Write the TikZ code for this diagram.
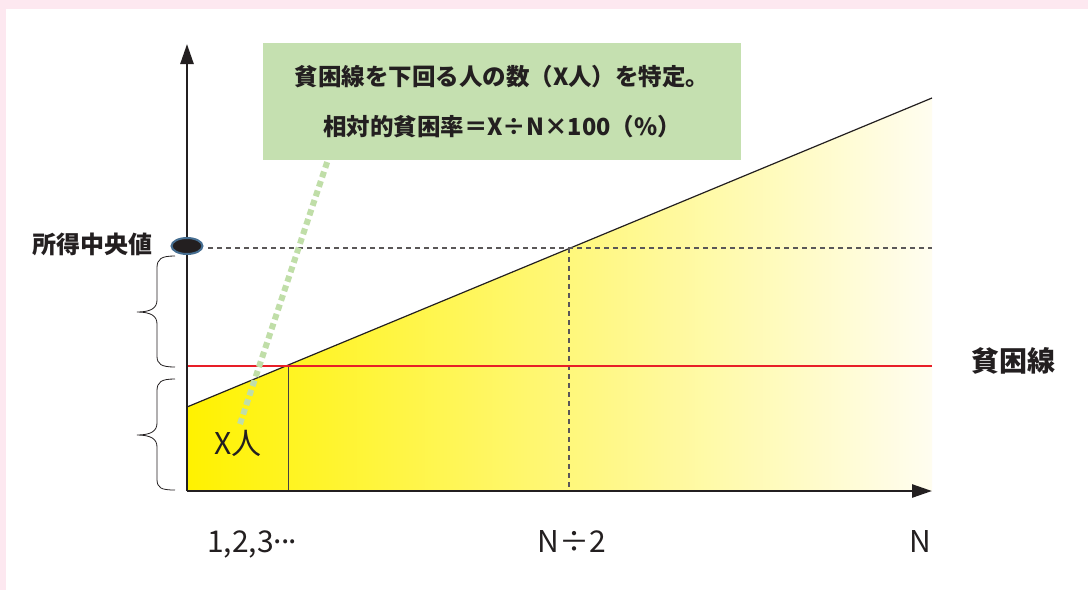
\documentclass[tikz,border=0pt]{standalone}
\usepackage{fontspec}
\setmainfont{Noto Sans CJK JP}
\usetikzlibrary{arrows.meta,calc,positioning,shapes.geometric}
\definecolor{pinkframe}{RGB}{253,232,240}
\definecolor{notegreen}{RGB}{197,224,176}
\definecolor{dotgreen}{RGB}{192,222,168}
\definecolor{fillyellow}{RGB}{255,242,0}
\definecolor{fillpale}{RGB}{255,253,240}
\definecolor{povred}{RGB}{232,30,40}
\definecolor{medianrim}{RGB}{70,110,145}
\definecolor{ink}{RGB}{35,31,32}

\begin{document}
\begin{tikzpicture}[x=1pt,y=-1pt,
  axis/.style={line width=2.6pt,draw=ink,-{Triangle[length=20pt,width=13pt]}},
  lbl/.style={inner sep=0pt,text=ink},
  tick/.style={lbl,anchor=base,font=\fontsize{30}{30}\selectfont},
  guide/.style={draw=ink!75,line width=1.1pt,dash pattern=on 5pt off 4pt}]
\useasboundingbox (0,0) rectangle (1088,590);
\fill[pinkframe] (0,0) rectangle (1088,590);
\fill[white] (6,9) rectangle (1088,590);

\coordinate (O) at (187,491);
\coordinate (ytip) at (187,44);
\coordinate (xtip) at (932,491);
\coordinate (lowstart) at (187,407);
\coordinate (highend) at (932,98);
\coordinate (cut) at (288,365);
\coordinate (half) at (569,248);

% yellow area under the income line
\shade[left color=fillyellow,right color=fillpale] (O) -- (lowstart) -- (highend) -- (highend |- O) -- cycle;
\draw[line width=1.2pt,draw=ink] (lowstart) -- (highend);
\draw[line width=1pt,draw=ink!85] (cut) -- (cut |- O);

% median
\draw[guide] (208,248) -- (932,248);
\draw[guide] (half) -- (half |- O);
% poverty line
\draw[line width=2.3pt,draw=povred] (187,366) -- (932,366);

\draw[axis] (O) -- (ytip);
\draw[axis] (O) -- (xtip);

\node[ellipse,fill=ink,draw=medianrim,line width=2pt,minimum width=31pt,minimum height=16pt,inner sep=0pt] (median) at (187,246) {};

% braces
\draw[line width=0.8pt,draw=ink] (175,256) .. controls (161,256) and (157,259) .. (157,268) -- (157,300) .. controls (157,308) and (151,312) .. (137,312) .. controls (151,312) and (157,316) .. (157,324) -- (157,356) .. controls (157,364) and (161,367) .. (175,367);
\draw[line width=0.8pt,draw=ink] (175,379) .. controls (161,379) and (157,382) .. (157,391) -- (157,423) .. controls (157,431) and (151,435) .. (137,435) .. controls (151,435) and (157,439) .. (157,447) -- (157,479) .. controls (157,488) and (161,490) .. (175,490);

\node[lbl,anchor=east,font=\fontsize{24}{24}\selectfont\bfseries] (mlabel) at (153,244) {所得中央値};
\node[lbl,anchor=west,font=\fontsize{28}{28}\selectfont\bfseries] (povlabel) at (971,361) {貧困線};
\node[lbl,font=\fontsize{30}{30}\selectfont] (xlabel) at (238,443) {X人};
\node[tick] (n1) at (252,552) {1,2,3\raisebox{0.3em}{.\kern-1pt.\kern-1pt.}};
\node[tick] (n2) at (572,552) {N÷2};
\node[tick] (n3) at (920,552) {N};

% note box
\node[fill=notegreen,minimum width=478pt,minimum height=117pt,align=center,text=ink,font=\fontsize{23.5}{50}\selectfont\bfseries] (note) at (502,101.5) {貧困線を下回る人の数（X人）を特定。\\相対的貧困率＝X÷N×100（\%）};
\coordinate (xpoint) at (240,424);
\draw[draw=dotgreen,line width=6pt,dash pattern=on 6pt off 4pt] (xpoint) -- ($(note.south west)+(65,0)$);
\end{tikzpicture}
\end{document}
